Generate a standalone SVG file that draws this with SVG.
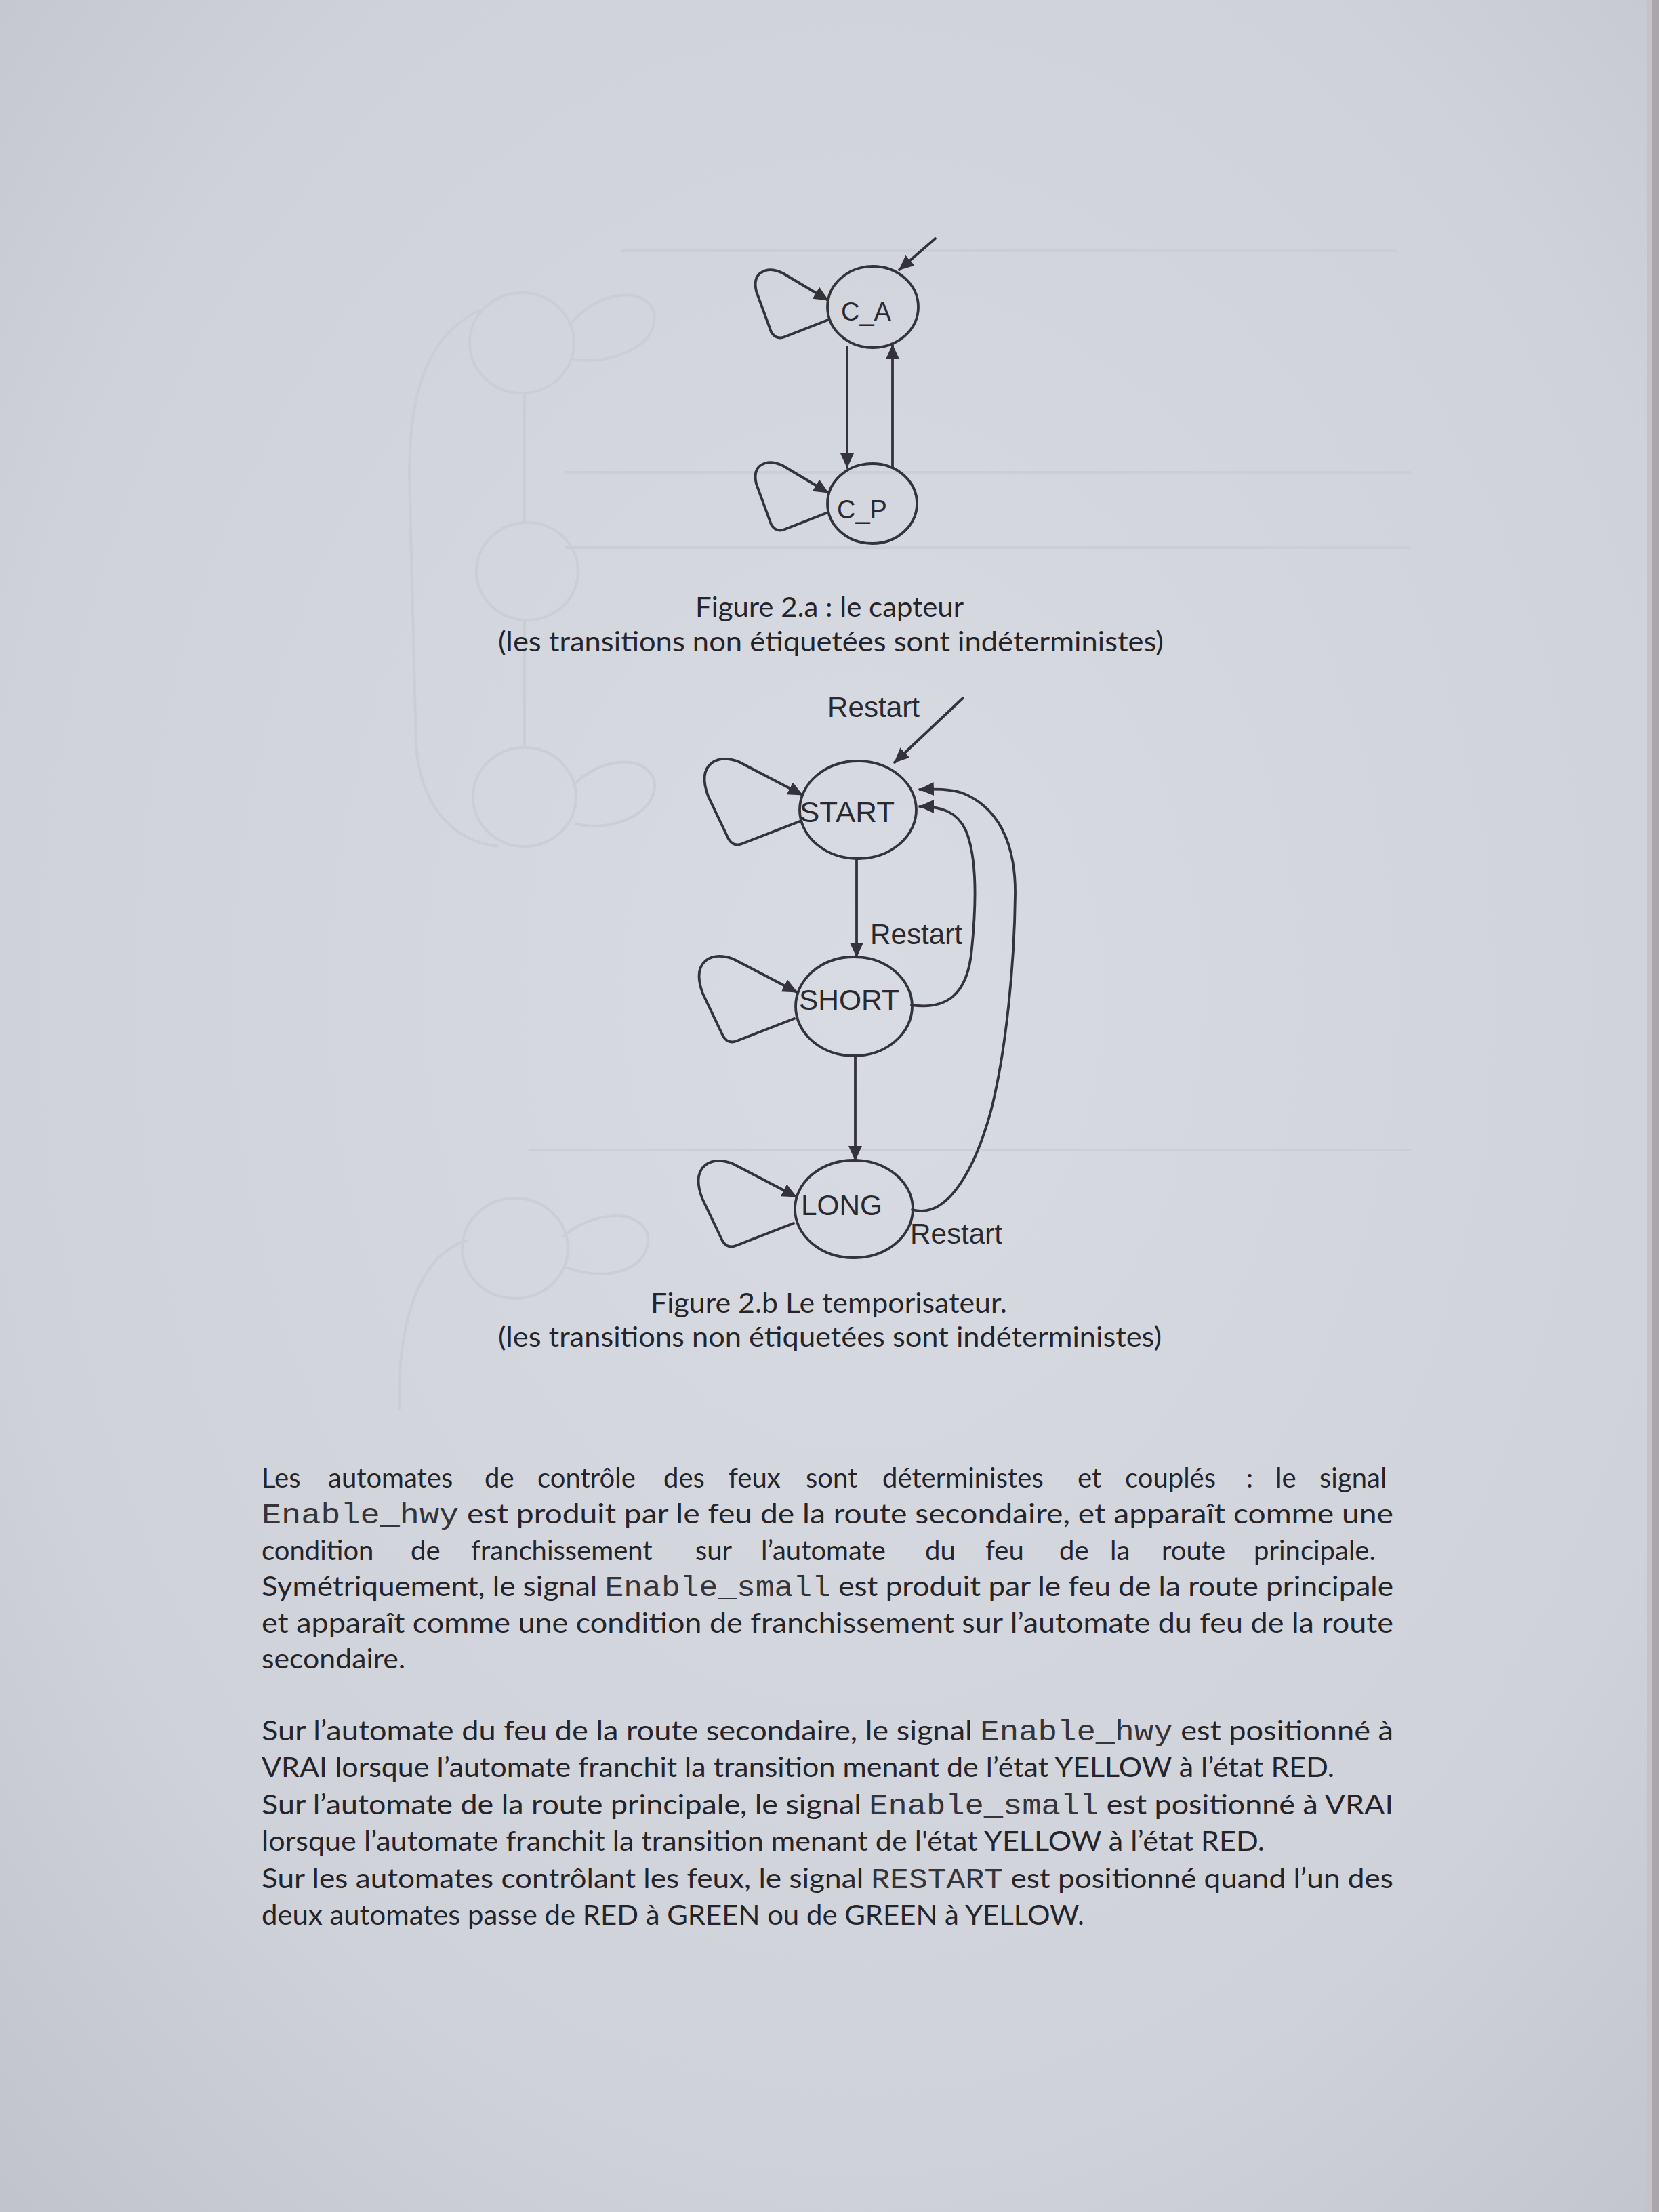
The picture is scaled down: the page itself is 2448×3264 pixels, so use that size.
<svg xmlns="http://www.w3.org/2000/svg" width="2448" height="3264" viewBox="0 0 2448 3264">
  <defs>
    <radialGradient id="paper" cx="0.52" cy="0.45" r="0.75">
      <stop offset="0" stop-color="#d8dbe1"/>
      <stop offset="0.7" stop-color="#cfd2d8"/>
      <stop offset="1" stop-color="#c1c4ca"/>
    </radialGradient>
    <marker id="arr" viewBox="0 0 22 20" refX="21" refY="10" markerWidth="22" markerHeight="20" markerUnits="userSpaceOnUse" orient="auto">
      <path d="M0,0 L22,10 L0,20 Z" fill="#34333a"/>
    </marker>
    <style>
      .edge { fill: none; stroke: #34333a; stroke-width: 3.8; stroke-linejoin: round; stroke-linecap: round; }
      .state { fill: none; stroke: #34333a; stroke-width: 3.8; }
      .lbl { font-family: "Liberation Sans", Arial, sans-serif; fill: #2a2930; }
      .cap { font-family: Lato, "Liberation Sans", sans-serif; font-size: 40px; fill: #25242b; }
      .body { font-family: Lato, "Liberation Sans", sans-serif; font-size: 40px; fill: #25242b; }
      .code { font-family: "Liberation Mono", "DejaVu Sans Mono", monospace; font-size: 42px; fill: #35343b; }
      .ghost { fill: none; stroke: #cbced4; stroke-width: 4; }
    </style>
  </defs>

  <!-- sheet of paper -->
  <rect x="0" y="0" width="2448" height="3264" fill="url(#paper)"/>
  <rect x="2430" y="0" width="18" height="3264" fill="#c6c3c8"/>
  <rect x="2438" y="0" width="10" height="3264" fill="#aaa5ab"/>

  <!-- faint show-through from the reverse side of the sheet -->
  <g id="show-through" class="ghost">
    <line x1="916" y1="370" x2="2061" y2="370"/>
    <line x1="833" y1="697" x2="2082" y2="697"/>
    <line x1="833" y1="808" x2="2082" y2="808"/>
    <line x1="780" y1="1697" x2="2082" y2="1697"/>
    <ellipse cx="770" cy="506" rx="77" ry="74"/>
    <ellipse cx="778" cy="843" rx="75" ry="72"/>
    <ellipse cx="774" cy="1176" rx="76" ry="73"/>
    <ellipse cx="760" cy="1842" rx="78" ry="74"/>
    <line x1="774" y1="582" x2="774" y2="770"/>
    <line x1="774" y1="917" x2="774" y2="1102"/>
    <path d="M708,458 C640,490 604,560 604,700 L614,1100 C620,1180 660,1240 735,1249"/>
    <path d="M840,480 C880,430 950,420 965,460 C975,510 900,540 845,530"/>
    <path d="M845,1160 C880,1120 950,1110 965,1150 C975,1200 900,1230 848,1215"/>
    <path d="M830,1825 C870,1790 940,1780 955,1820 C965,1870 900,1895 835,1870"/>
    <path d="M690,1830 C620,1850 585,1950 590,2080"/>
  </g>

  <!-- Figure 2.a : sensor automaton -->
  <g id="fig2a-edges">
    <path class="edge" d="M1380,352 L1327,398" marker-end="url(#arr)"/>
    <path class="edge" d="M1222,472 L1158,497 Q1145,502 1138,490 L1116,430 Q1110,405 1130,399 Q1140,396 1155,403 L1222,443" marker-end="url(#arr)"/>
    <path class="edge" transform="translate(0,284)" d="M1222,472 L1158,497 Q1145,502 1138,490 L1116,430 Q1110,405 1130,399 Q1140,396 1155,403 L1222,443" marker-end="url(#arr)"/>
    <path class="edge" d="M1250,512 L1250,690" marker-end="url(#arr)"/>
    <path class="edge" d="M1317,690 L1317,509" marker-end="url(#arr)"/>
  </g>
  <g id="state-C_A">
    <ellipse class="state" cx="1288" cy="453" rx="67" ry="60"/>
    <text class="lbl" x="1278" y="473" font-size="38" text-anchor="middle">C_A</text>
  </g>
  <g id="state-C_P">
    <ellipse class="state" cx="1287" cy="743" rx="66" ry="59"/>
    <text class="lbl" x="1272" y="765" font-size="38" text-anchor="middle">C_P</text>
  </g>
  <g id="caption-2a">
    <text class="cap" x="1026" y="910" textLength="396" lengthAdjust="spacingAndGlyphs">Figure 2.a : le capteur</text>
    <text class="cap" x="735" y="961" textLength="982" lengthAdjust="spacingAndGlyphs">(les transitions non étiquetées sont indéterministes)</text>
  </g>

  <!-- Figure 2.b : timer automaton -->
  <g id="fig2b-edges">
    <path class="edge" d="M1421,1030 L1320,1125" marker-end="url(#arr)"/>
    <path class="edge" d="M1180,1212 L1095,1245 Q1082,1250 1075,1238 L1045,1175 Q1032,1140 1050,1126 Q1065,1115 1090,1124 L1184,1173" marker-end="url(#arr)"/>
    <path class="edge" transform="translate(-8,291)" d="M1180,1212 L1095,1245 Q1082,1250 1075,1238 L1045,1175 Q1032,1140 1050,1126 Q1065,1115 1090,1124 L1184,1173" marker-end="url(#arr)"/>
    <path class="edge" transform="translate(-9,593)" d="M1180,1212 L1095,1245 Q1082,1250 1075,1238 L1045,1175 Q1032,1140 1050,1126 Q1065,1115 1090,1124 L1184,1173" marker-end="url(#arr)"/>
    <path class="edge" d="M1264,1267 L1264,1412" marker-end="url(#arr)"/>
    <path class="edge" d="M1262,1558 L1262,1712" marker-end="url(#arr)"/>
    <path class="edge" d="M1345,1483 C1395,1490 1428,1470 1434,1400 C1442,1320 1440,1260 1425,1225 C1412,1198 1390,1190 1357,1190" marker-end="url(#arr)"/>
    <path class="edge" d="M1346,1785 C1400,1800 1440,1720 1462,1640 C1485,1550 1497,1420 1498,1320 C1499,1240 1470,1190 1420,1170 C1400,1164 1380,1164 1357,1165" marker-end="url(#arr)"/>
    <text class="lbl" x="1221" y="1058" font-size="42" textLength="136" lengthAdjust="spacingAndGlyphs">Restart</text>
    <text class="lbl" x="1284" y="1393" font-size="42" textLength="136" lengthAdjust="spacingAndGlyphs">Restart</text>
    <text class="lbl" x="1343" y="1835" font-size="42" textLength="136" lengthAdjust="spacingAndGlyphs">Restart</text>
  </g>
  <g id="state-START">
    <ellipse class="state" cx="1266" cy="1195" rx="86" ry="72"/>
    <text class="lbl" x="1180" y="1213" font-size="42" textLength="140" lengthAdjust="spacingAndGlyphs">START</text>
  </g>
  <g id="state-SHORT">
    <ellipse class="state" cx="1260" cy="1485" rx="86" ry="73"/>
    <text class="lbl" x="1179" y="1490" font-size="42" textLength="148" lengthAdjust="spacingAndGlyphs">SHORT</text>
  </g>
  <g id="state-LONG">
    <ellipse class="state" cx="1260" cy="1784" rx="87" ry="72"/>
    <text class="lbl" x="1182" y="1793" font-size="42" textLength="120" lengthAdjust="spacingAndGlyphs">LONG</text>
  </g>
  <g id="caption-2b">
    <text class="cap" x="960" y="1937" textLength="526" lengthAdjust="spacingAndGlyphs">Figure 2.b Le temporisateur.</text>
    <text class="cap" x="735" y="1987" textLength="979" lengthAdjust="spacingAndGlyphs">(les transitions non étiquetées sont indéterministes)</text>
  </g>

  <!-- body paragraphs -->
  <g id="paragraph-1">
    <text class="body" y="2195"><tspan x="386">Les</tspan><tspan x="484">automates</tspan><tspan x="715">de</tspan><tspan x="793">contrôle</tspan><tspan x="979">des</tspan><tspan x="1075">feux</tspan><tspan x="1189">sont</tspan><tspan x="1302">déterministes</tspan><tspan x="1590">et</tspan><tspan x="1660">couplés</tspan><tspan x="1839">:</tspan><tspan x="1882">le</tspan><tspan x="1947">signal</tspan></text>
    <text class="body" x="386" y="2248" textLength="1670" lengthAdjust="spacingAndGlyphs"><tspan class="code">Enable_hwy</tspan> est produit par le feu de la route secondaire, et apparaît comme une</text>
    <text class="body" y="2302"><tspan x="386">condition</tspan><tspan x="606">de</tspan><tspan x="695">franchissement</tspan><tspan x="1026">sur</tspan><tspan x="1123">l’automate</tspan><tspan x="1365">du</tspan><tspan x="1454">feu</tspan><tspan x="1563">de</tspan><tspan x="1638">la</tspan><tspan x="1714">route</tspan><tspan x="1850">principale.</tspan></text>
    <text class="body" x="386" y="2355" textLength="1670" lengthAdjust="spacingAndGlyphs">Symétriquement, le signal <tspan class="code">Enable_small</tspan> est produit par le feu de la route principale</text>
    <text class="body" x="386" y="2409" textLength="1670" lengthAdjust="spacingAndGlyphs">et apparaît comme une condition de franchissement sur l’automate du feu de la route</text>
    <text class="body" x="386" y="2462" textLength="212" lengthAdjust="spacingAndGlyphs">secondaire.</text>
  </g>
  <g id="paragraph-2">
    <text class="body" x="386" y="2568" textLength="1670" lengthAdjust="spacingAndGlyphs">Sur l’automate du feu de la route secondaire, le signal <tspan class="code">Enable_hwy</tspan> est positionné à</text>
    <text class="body" x="386" y="2622" textLength="1583" lengthAdjust="spacingAndGlyphs">VRAI lorsque l’automate franchit la transition menant de l’état YELLOW à l’état RED.</text>
    <text class="body" x="386" y="2677" textLength="1670" lengthAdjust="spacingAndGlyphs">Sur l’automate de la route principale, le signal <tspan class="code">Enable_small</tspan> est positionné à VRAI</text>
    <text class="body" x="386" y="2731" textLength="1480" lengthAdjust="spacingAndGlyphs">lorsque l’automate franchit la transition menant de l'état YELLOW à l’état RED.</text>
    <text class="body" x="386" y="2786" textLength="1670" lengthAdjust="spacingAndGlyphs">Sur les automates contrôlant les feux, le signal <tspan class="code">RESTART</tspan> est positionné quand l’un des</text>
    <text class="body" x="386" y="2840" textLength="1214" lengthAdjust="spacingAndGlyphs">deux automates passe de RED à GREEN ou de GREEN à YELLOW.</text>
  </g>
</svg>
